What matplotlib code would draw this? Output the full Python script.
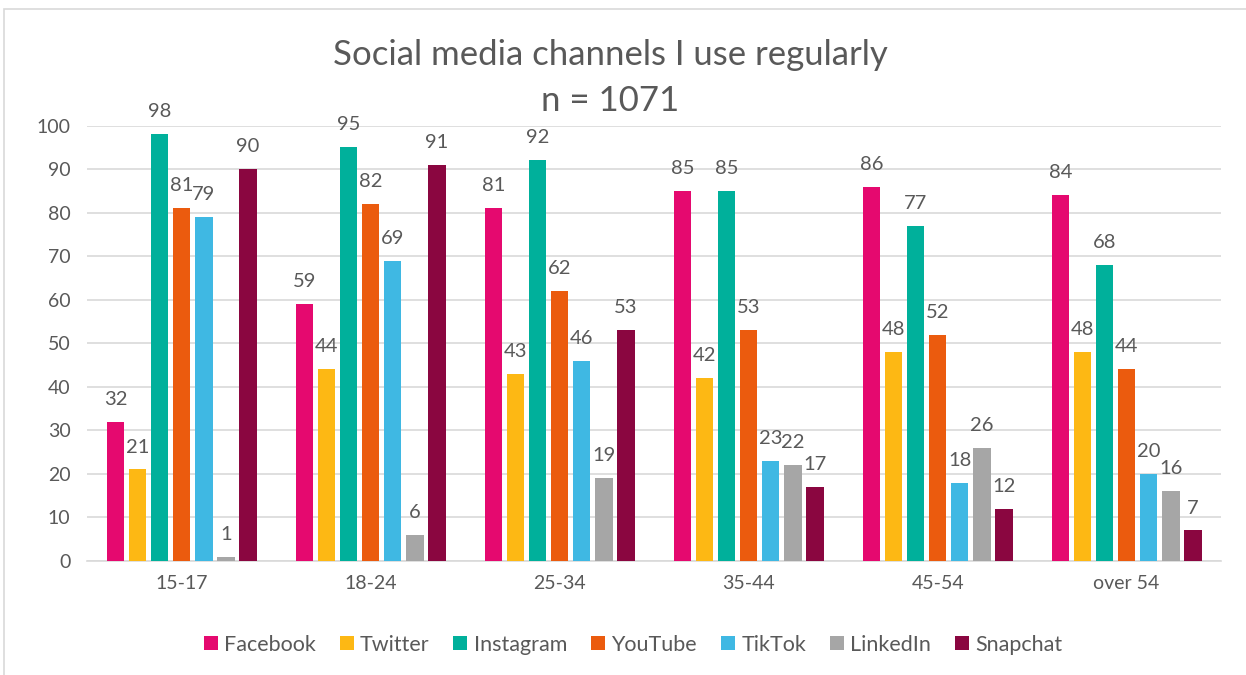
import numpy as np
import matplotlib.pyplot as plt
from matplotlib.patches import Rectangle

plt.rcParams['font.family'] = ['Lato', 'DejaVu Sans']

groups = ['15-17', '18-24', '25-34', '35-44', '45-54', 'over 54']
channels = ['Facebook', 'Twitter', 'Instagram', 'YouTube', 'TikTok', 'LinkedIn', 'Snapchat']
colors = ['#e5096f', '#fdb814', '#00b09b', '#eb5b0e', '#3fb8e3', '#a6a6a6', '#8a0640']

facebook = [32, 59, 81, 85, 86, 84]
twitter = [21, 44, 43, 42, 48, 48]
instagram = [98, 95, 92, 85, 77, 68]
youtube = [81, 82, 62, 53, 52, 44]
tiktok = [79, 69, 46, 23, 18, 20]
linkedin = [1, 6, 19, 22, 26, 16]
snapchat = [90, 91, 53, 17, 12, 7]
series = [facebook, twitter, instagram, youtube, tiktok, linkedin, snapchat]

txt = '#595959'
fig = plt.figure(figsize=(12.46, 6.75), dpi=100)
ax = fig.add_axes([0.07, 0.169, 0.91, 0.645])

x = np.arange(len(groups))
step = 0.117
w = 0.092
for i, (name, vals, c) in enumerate(zip(channels, series, colors)):
    pos = x + (i - 3) * step
    ax.bar(pos, vals, w, color=c, label=name, zorder=3)
    for p, v in zip(pos, vals):
        ax.text(p, v + 3.2, str(v), ha='center', va='bottom', fontsize=14.5, color=txt)

ax.set_xlim(-0.5, 5.5)
ax.set_ylim(0, 100)
ax.set_yticks(range(0, 101, 10))
ax.set_xticks(x)
ax.set_xticklabels(groups)
ax.tick_params(axis='both', length=0, labelsize=14, colors=txt)
ax.tick_params(axis='x', pad=10)
ax.tick_params(axis='y', pad=12)
ax.grid(axis='y', color='#d9d9d9', lw=1.2, zorder=0)
for s in ['top', 'right', 'left']:
    ax.spines[s].set_visible(False)
ax.spines['bottom'].set_color('#d9d9d9')
ax.spines['bottom'].set_linewidth(1.2)

fig.text(0.49, 0.918, 'Social media channels I use regularly', ha='center', va='center',
         fontsize=25, color=txt)
fig.text(0.49, 0.851, 'n = 1071', ha='center', va='center', fontsize=25, color=txt)

fig.legend(loc='center', bbox_to_anchor=(0.508, 0.045), ncol=7, frameon=False,
           fontsize=15.5, labelcolor=txt, handlelength=0.65, handleheight=0.65,
           handletextpad=0.3, columnspacing=1.1)

fig.patches.append(Rectangle((0.003, -0.01), 1.1, 0.997, transform=fig.transFigure,
                             fill=False, edgecolor='#d9d9d9', lw=1.2))

plt.savefig('out.png', dpi=100)
